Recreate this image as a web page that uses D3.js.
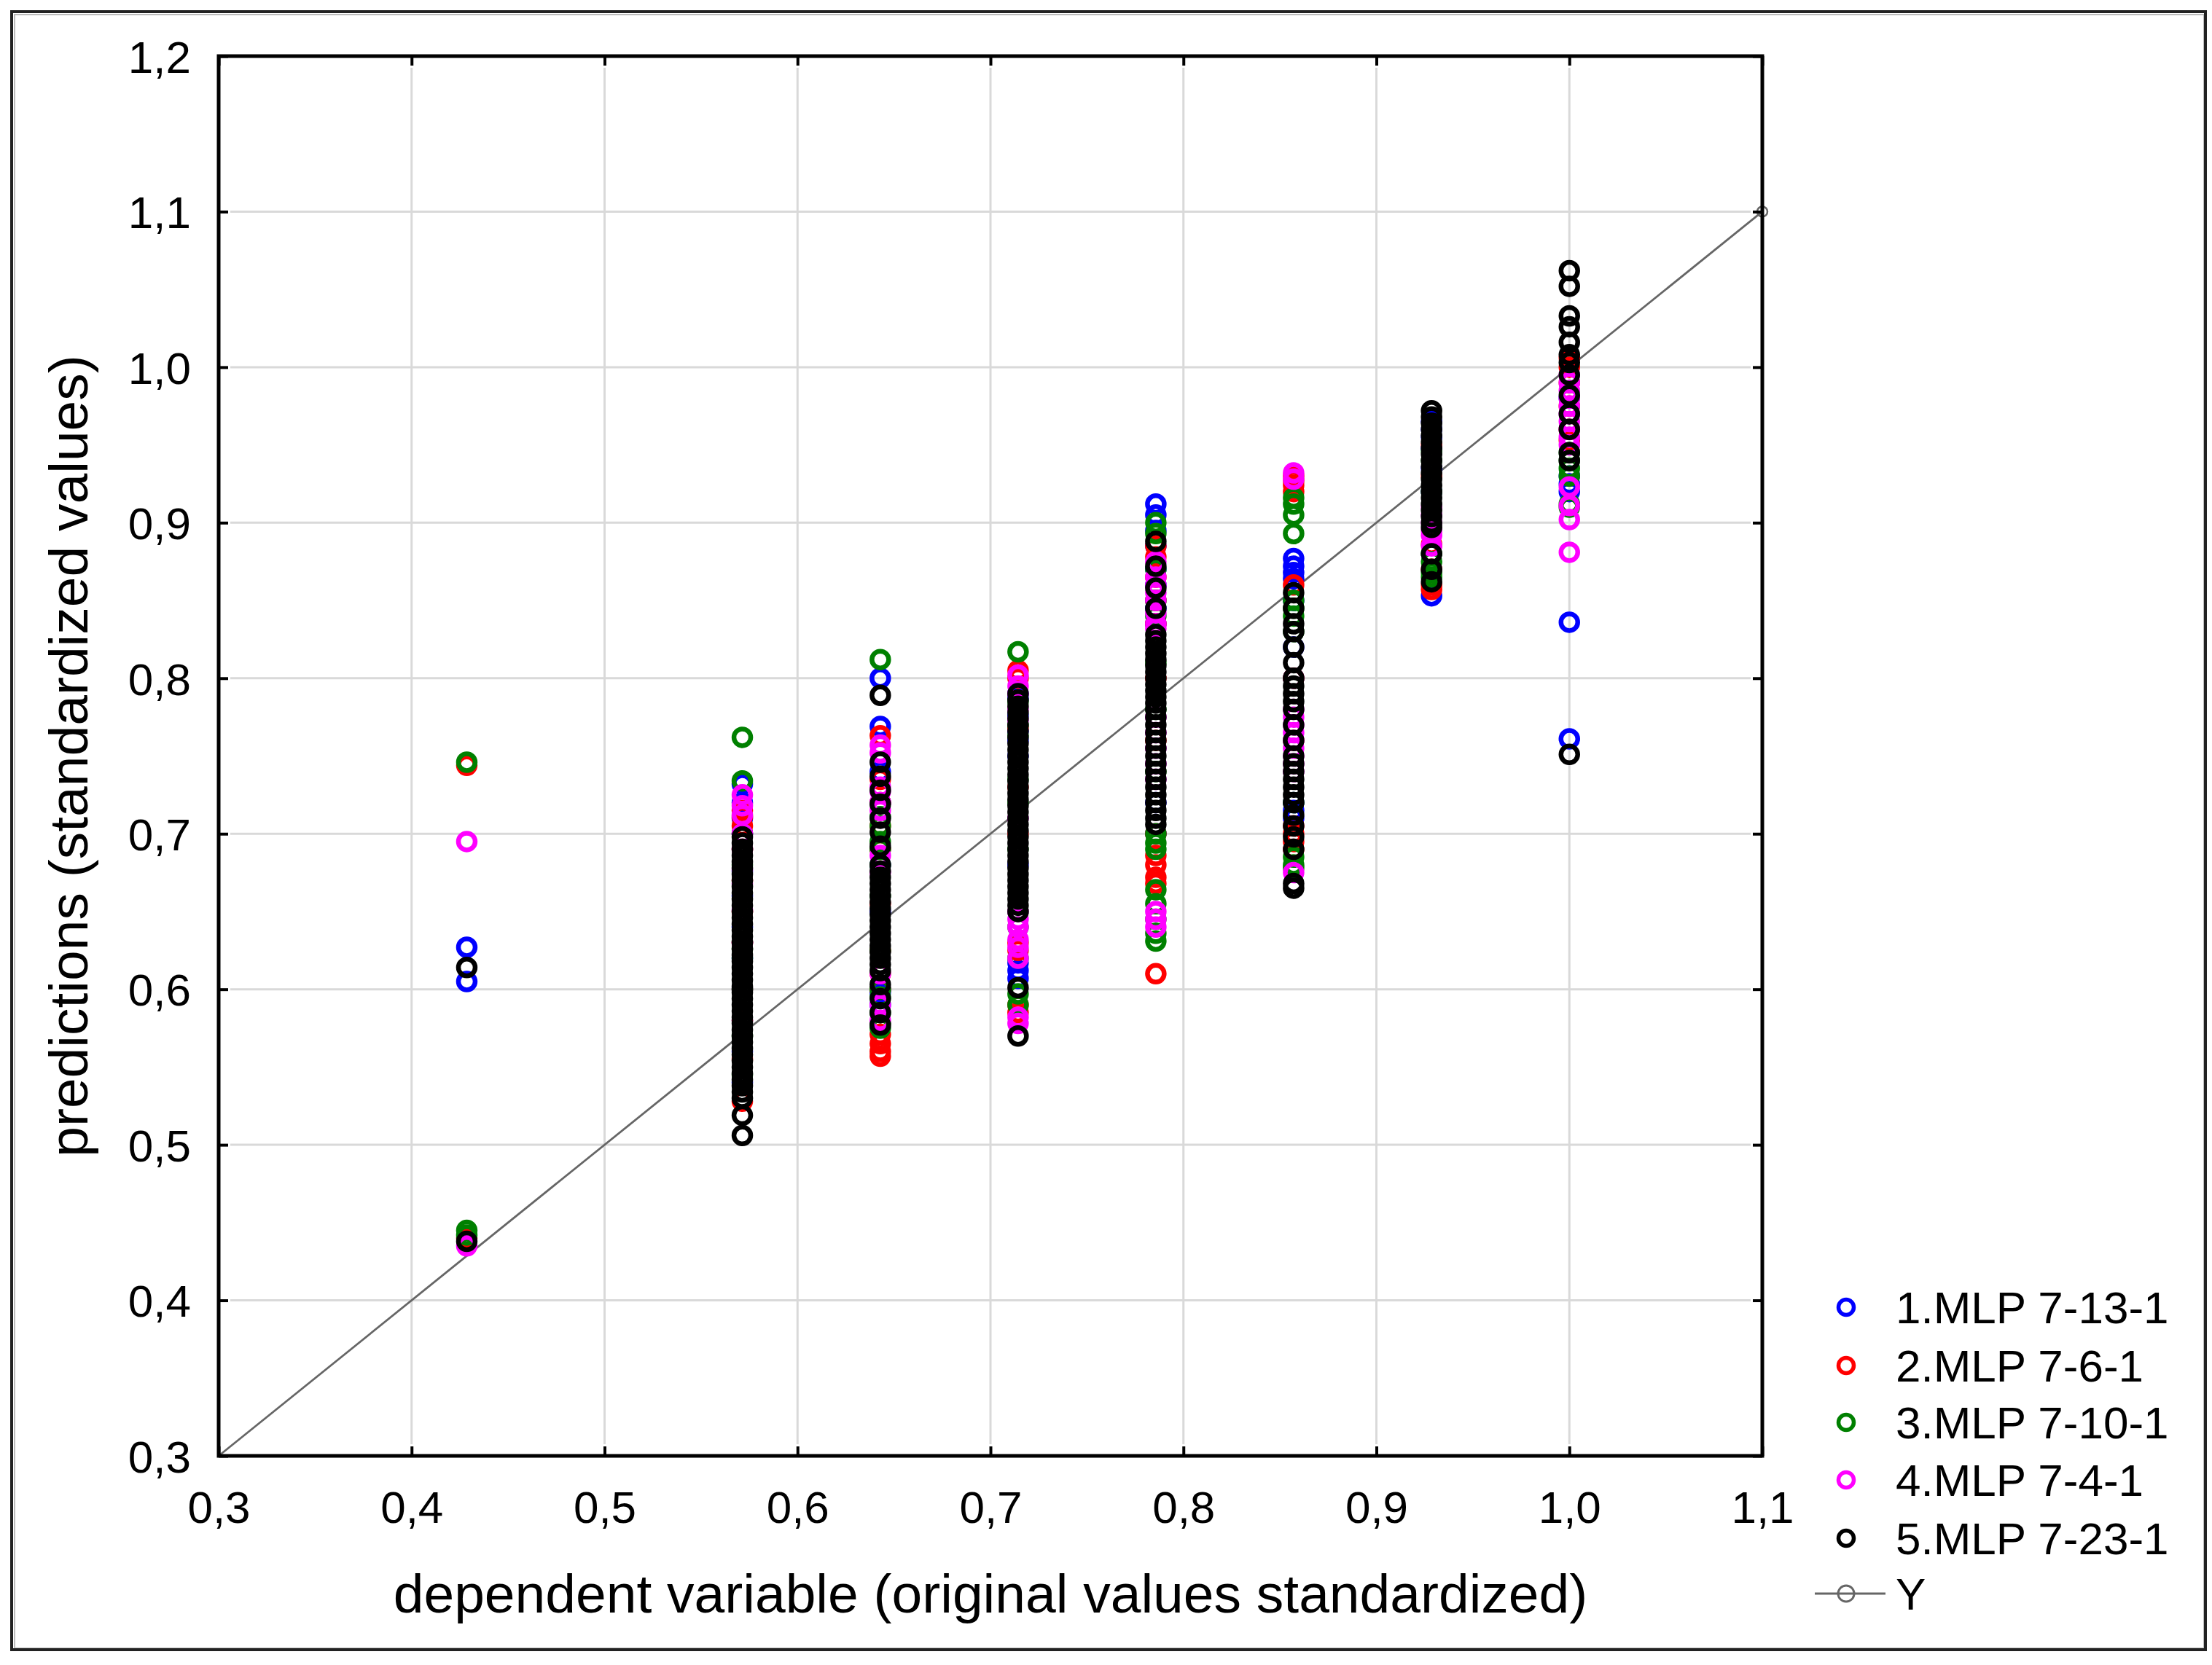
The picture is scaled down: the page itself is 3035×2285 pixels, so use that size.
<!DOCTYPE html>
<html>
<head>
<meta charset="utf-8">
<script src="https://cdn.jsdelivr.net/npm/d3@7"></script>
<style>
  html, body { margin: 0; padding: 0; background: #ffffff; }
  svg { display: block; }
  text { font-family: "Liberation Sans", Arial, sans-serif; fill: #000; }
</style>
</head>
<body>
<svg id="chart" width="3035" height="2285"></svg>
<script>
// ---------------- DATA ----------------
const xLevels = [0.4286, 0.5714, 0.6429, 0.7143, 0.7857, 0.8571, 0.9286, 1.0];

const xTicks = [0.3, 0.4, 0.5, 0.6, 0.7, 0.8, 0.9, 1.0, 1.1];
const yTicks = [0.3, 0.4, 0.5, 0.6, 0.7, 0.8, 0.9, 1.0, 1.1, 1.2];
const xTickLabels = ["0,3","0,4","0,5","0,6","0,7","0,8","0,9","1,0","1,1"];
const yTickLabels = ["0,3","0,4","0,5","0,6","0,7","0,8","0,9","1,0","1,1","1,2"];

const seriesNames = ["1.MLP 7-13-1", "2.MLP 7-6-1", "3.MLP 7-10-1", "4.MLP 7-4-1", "5.MLP 7-23-1"];
const seriesColors = ["#0000ff", "#ff0000", "#008000", "#ff00ff", "#000000"];
const lineName = "Y";

// predictions per dependent-variable level (one inner array per xLevels entry)
const mlp1 = [ // blue
  [0.627, 0.605],
  [0.732, 0.720, 0.710, 0.700, 0.676, 0.660, 0.640, 0.620, 0.600, 0.580, 0.560, 0.540],
  [0.800, 0.769, 0.740, 0.720, 0.680, 0.650, 0.600, 0.598, 0.590],
  [0.790, 0.787, 0.776, 0.766, 0.760, 0.750, 0.680, 0.617, 0.612, 0.607],
  [0.912, 0.905, 0.895, 0.885, 0.870, 0.860, 0.845, 0.835, 0.720, 0.700],
  [0.877, 0.872, 0.868, 0.864, 0.850, 0.820, 0.800, 0.720, 0.715, 0.710],
  [0.965, 0.960, 0.955, 0.948, 0.935, 0.920, 0.853],
  [0.980, 0.930, 0.925, 0.920, 0.836, 0.761]
];
const mlp2 = [ // red
  [0.744, 0.440],
  [0.715, 0.711, 0.705, 0.690, 0.670, 0.650, 0.630, 0.600, 0.580, 0.555, 0.528],
  [0.763, 0.735, 0.720, 0.705, 0.690, 0.655, 0.625, 0.610, 0.600, 0.571, 0.565, 0.560, 0.557],
  [0.805, 0.800, 0.768, 0.730, 0.700, 0.630, 0.625, 0.590, 0.585],
  [0.885, 0.878, 0.865, 0.850, 0.835, 0.800, 0.760, 0.700, 0.686, 0.680, 0.672, 0.668, 0.610],
  [0.930, 0.927, 0.924, 0.920, 0.860, 0.800, 0.760, 0.705, 0.700, 0.695, 0.690],
  [0.950, 0.930, 0.886, 0.870, 0.860, 0.857],
  [1.006, 1.000, 0.990, 0.975, 0.960, 0.953]
];
const mlp3 = [ // green
  [0.746, 0.445, 0.442],
  [0.762, 0.734, 0.700, 0.680, 0.631, 0.626, 0.620, 0.600, 0.570, 0.545],
  [0.812, 0.711, 0.705, 0.695, 0.690, 0.680, 0.660, 0.625, 0.600, 0.595, 0.585, 0.578, 0.575],
  [0.817, 0.785, 0.770, 0.763, 0.735, 0.720, 0.690, 0.650, 0.640, 0.620, 0.597, 0.590],
  [0.900, 0.893, 0.870, 0.850, 0.840, 0.810, 0.780, 0.740, 0.700, 0.694, 0.690, 0.664, 0.655, 0.645, 0.636, 0.631],
  [0.916, 0.912, 0.905, 0.893, 0.850, 0.845, 0.840, 0.830, 0.720, 0.685, 0.680, 0.678],
  [0.946, 0.940, 0.920, 0.880, 0.875, 0.868, 0.865],
  [0.945, 0.940, 0.935, 0.930, 0.912, 0.910]
];
const mlp4 = [ // magenta
  [0.695, 0.435],
  [0.725, 0.718, 0.712, 0.700, 0.690, 0.677, 0.668, 0.651, 0.630],
  [0.757, 0.752, 0.730, 0.727, 0.720, 0.715, 0.686, 0.675, 0.610, 0.590, 0.580],
  [0.802, 0.795, 0.790, 0.780, 0.773, 0.710, 0.650, 0.645, 0.640, 0.632, 0.627, 0.620, 0.582, 0.578],
  [0.875, 0.865, 0.860, 0.855, 0.850, 0.842, 0.835, 0.832, 0.775, 0.765, 0.755, 0.745, 0.735, 0.650, 0.645, 0.640],
  [0.932, 0.928, 0.780, 0.775, 0.770, 0.765, 0.760, 0.755, 0.750, 0.745, 0.740, 0.675],
  [0.910, 0.905, 0.900, 0.895, 0.892, 0.885],
  [0.995, 0.990, 0.985, 0.980, 0.975, 0.970, 0.965, 0.960, 0.955, 0.950, 0.923, 0.911, 0.902, 0.881]
];
const mlp5 = [ // black
  [0.614, 0.438],
  [0.698, 0.694, 0.690, 0.686, 0.682, 0.678, 0.674, 0.670, 0.666, 0.662, 0.658, 0.654, 0.650, 0.646,
   0.642, 0.638, 0.634, 0.630, 0.626, 0.622, 0.618, 0.614, 0.610, 0.606, 0.602, 0.598, 0.594, 0.590,
   0.586, 0.582, 0.578, 0.574, 0.570, 0.566, 0.562, 0.558, 0.554, 0.550, 0.546, 0.542, 0.538, 0.534,
   0.530, 0.519, 0.506],
  [0.789, 0.746, 0.737, 0.728, 0.719, 0.710, 0.701, 0.692, 0.680, 0.676, 0.672, 0.668, 0.664, 0.660,
   0.656, 0.652, 0.648, 0.644, 0.640, 0.636, 0.632, 0.628, 0.624, 0.620, 0.616, 0.612, 0.603, 0.594,
   0.585, 0.577],
  [0.790, 0.786, 0.782, 0.778, 0.774, 0.770, 0.766, 0.762, 0.758, 0.754, 0.750, 0.746, 0.742, 0.738,
   0.734, 0.730, 0.726, 0.722, 0.718, 0.714, 0.710, 0.706, 0.702, 0.698, 0.694, 0.690, 0.686, 0.682,
   0.678, 0.674, 0.670, 0.666, 0.662, 0.658, 0.654, 0.650, 0.601, 0.570],
  [0.888, 0.872, 0.858, 0.845, 0.828, 0.824, 0.820, 0.816, 0.812, 0.808, 0.804, 0.800, 0.796, 0.792,
   0.788, 0.784, 0.780, 0.775, 0.770, 0.765, 0.760, 0.755, 0.750, 0.745, 0.740, 0.735, 0.730, 0.725,
   0.720, 0.715, 0.710, 0.706],
  [0.855, 0.845, 0.835, 0.830, 0.820, 0.810, 0.800, 0.795, 0.790, 0.785, 0.780, 0.770, 0.760, 0.750,
   0.745, 0.740, 0.735, 0.730, 0.725, 0.720, 0.712, 0.705, 0.698, 0.690, 0.668, 0.665],
  [0.972, 0.968, 0.964, 0.960, 0.956, 0.952, 0.948, 0.944, 0.940, 0.936, 0.932, 0.928, 0.924, 0.920,
   0.916, 0.912, 0.908, 0.904, 0.900, 0.897, 0.880, 0.870, 0.862],
  [1.062, 1.052, 1.033, 1.026, 1.016, 1.008, 1.003, 0.995, 0.982, 0.970, 0.960, 0.945, 0.940, 0.751]
];
const seriesValues = [mlp1, mlp2, mlp3, mlp4, mlp5];

// identity line Y = X
const lineX = [0.3, 1.1];
const lineY = [0.3, 1.1];

// ---------------- CHART ----------------
const svg = d3.select("#chart");
const W = 3035, H = 2285;
const plot = { left: 300, right: 2418, top: 77, bottom: 1998 };
const font = '"Liberation Sans", Arial, sans-serif';

svg.append("rect").attr("x", 0).attr("y", 0).attr("width", W).attr("height", H).attr("fill", "#fff");
// outer frame
svg.append("rect").attr("x", 20).attr("y", 20).attr("width", 3004).attr("height", 2242)
  .attr("fill", "none").attr("stroke", "#bbbbbb").attr("stroke-width", 2);
svg.append("rect").attr("x", 16).attr("y", 16).attr("width", 3010).attr("height", 2248)
  .attr("fill", "none").attr("stroke", "#222").attr("stroke-width", 4);

const x = d3.scaleLinear().domain([0.3, 1.1]).range([plot.left, plot.right]);
const y = d3.scaleLinear().domain([0.3, 1.2]).range([plot.bottom, plot.top]);

// grid
const grid = svg.append("g");
grid.selectAll(".gx").data(xTicks.slice(1, -1)).join("line")
  .attr("x1", d => x(d)).attr("x2", d => x(d))
  .attr("y1", plot.top + 16).attr("y2", plot.bottom - 16)
  .attr("stroke", "#d9d9d9").attr("stroke-width", 3);
grid.selectAll(".gy").data(yTicks.slice(1, -1)).join("line")
  .attr("y1", d => y(d)).attr("y2", d => y(d))
  .attr("x1", plot.left + 16).attr("x2", plot.right - 16)
  .attr("stroke", "#d9d9d9").attr("stroke-width", 3);

// identity line
const lineData = lineX.map((v, i) => [v, lineY[i]]);
svg.append("path").datum(lineData)
  .attr("d", d3.line().x(d => x(d[0])).y(d => y(d[1])))
  .attr("fill", "none").attr("stroke", "#666").attr("stroke-width", 2.8);
svg.selectAll(".ym").data(lineData.slice(1)).join("circle")
  .attr("cx", d => x(d[0])).attr("cy", d => y(d[1])).attr("r", 7)
  .attr("fill", "none").attr("stroke", "#666").attr("stroke-width", 2.5);

// points
seriesValues.forEach((series, si) => {
  const pts = [];
  series.forEach((vals, ci) => vals.forEach(v => pts.push([xLevels[ci], v])));
  svg.append("g").selectAll("circle").data(pts).join("circle")
    .attr("cx", d => x(d[0])).attr("cy", d => y(d[1])).attr("r", 11.5)
    .attr("fill", "none").attr("stroke", seriesColors[si]).attr("stroke-width", 6.5);
});

// axes (all four sides, inward ticks)
const tickLen = 13;
const axB = svg.append("g").attr("transform", `translate(0,${plot.bottom})`)
  .call(d3.axisBottom(x).tickValues(xTicks).tickSize(-tickLen).tickFormat((d, i) => xTickLabels[i]).tickPadding(48));
const axT = svg.append("g").attr("transform", `translate(0,${plot.top})`)
  .call(d3.axisTop(x).tickValues(xTicks).tickSize(-tickLen).tickFormat(""));
const axL = svg.append("g").attr("transform", `translate(${plot.left},0)`)
  .call(d3.axisLeft(y).tickValues(yTicks).tickSize(-tickLen).tickFormat((d, i) => yTickLabels[i]).tickPadding(38));
const axR = svg.append("g").attr("transform", `translate(${plot.right},0)`)
  .call(d3.axisRight(y).tickValues(yTicks).tickSize(-tickLen).tickFormat(""));
[axB, axT, axL, axR].forEach(a => {
  a.select(".domain").remove();
  a.selectAll(".tick line").attr("stroke", "#000").attr("stroke-width", 4);
  a.selectAll("text").attr("font-family", font).attr("font-size", 62).attr("fill", "#000");
});
axB.selectAll(".tick text").attr("dy", "0.71em");
axL.selectAll(".tick text").attr("dy", "0.36em");

// plot frame
svg.append("rect").attr("x", plot.left).attr("y", plot.top)
  .attr("width", plot.right - plot.left).attr("height", plot.bottom - plot.top)
  .attr("fill", "none").attr("stroke", "#000").attr("stroke-width", 5);

// axis titles
svg.append("text").attr("x", (plot.left + plot.right) / 2).attr("y", 2213)
  .attr("text-anchor", "middle").attr("font-size", 75).attr("font-family", font)
  .text("dependent variable (original values standardized)");
svg.append("text").attr("transform", `translate(120,${(plot.top + plot.bottom) / 2}) rotate(-90)`)
  .attr("text-anchor", "middle").attr("font-size", 75).attr("font-family", font)
  .text("predictions (standardized values)");

// legend
const legRows = [1794, 1874, 1952, 2031, 2111, 2187];
const leg = svg.append("g");
seriesNames.forEach((name, i) => {
  leg.append("circle").attr("cx", 2533).attr("cy", legRows[i]).attr("r", 10.5)
    .attr("fill", "none").attr("stroke", seriesColors[i]).attr("stroke-width", 5.5);
  leg.append("text").attr("x", 2601).attr("y", legRows[i] + 22)
    .attr("font-size", 62).attr("font-family", font).text(name);
});
leg.append("line").attr("x1", 2490).attr("x2", 2587).attr("y1", legRows[5]).attr("y2", legRows[5])
  .attr("stroke", "#666").attr("stroke-width", 3);
leg.append("circle").attr("cx", 2533).attr("cy", legRows[5]).attr("r", 11)
  .attr("fill", "none").attr("stroke", "#666").attr("stroke-width", 3);
leg.append("text").attr("x", 2601).attr("y", legRows[5] + 22)
  .attr("font-size", 62).attr("font-family", font).text(lineName);
</script>
</body>
</html>
